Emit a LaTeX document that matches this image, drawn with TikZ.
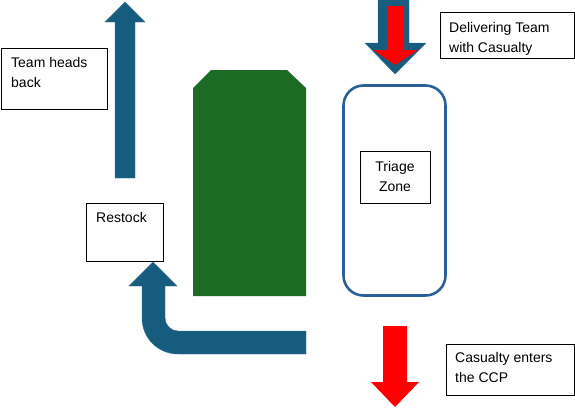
\documentclass[tikz,border=0pt]{standalone}
\usepackage{fontspec}
\setmainfont{Liberation Sans}
\definecolor{arrowblue}{RGB}{22,92,126}
\definecolor{zoneblue}{RGB}{42,96,152}
\definecolor{blockgreen}{RGB}{28,107,36}
\definecolor{alertred}{RGB}{255,0,0}
\tikzset{
  labelbox/.style={draw=black, line width=0.9pt, fill=white, inner sep=0pt, anchor=north west},
  labeltext/.style={inner sep=0pt, anchor=north west, align=left, font={\fontsize{14}{20.5}\selectfont}},
  centertext/.style={inner sep=0pt, anchor=north, align=center, font={\fontsize{14}{20}\selectfont}},
  bluearrow/.style={fill=arrowblue, draw=arrowblue!85!white, line width=0.4pt},
  redarrow/.style={fill=alertred},
}
\begin{document}
\begin{tikzpicture}[x=1pt,y=-1pt]
\useasboundingbox (0,0) rectangle (575,408);

% green block
\fill[blockgreen] (193,296) -- (193,88) -- (211,70) -- (287,70) -- (306,88) -- (306,296) -- cycle;

% up arrow (team heads back)
\path[bluearrow] (115,178) -- (115,22) -- (105,22) -- (125,2) -- (145,22) -- (135,22) -- (135,178) -- cycle;

% bent arrow
\path[bluearrow] (306,331) -- (178,331) .. controls (171,331) and (165,325) .. (165,318)
  -- (165,286) -- (177,286) -- (153,262) -- (129,286) -- (142,286) -- (142,318)
  .. controls (142,338) and (158,354) .. (178,354) -- (306,354) -- cycle;

% top arrow (delivering team)
\path[bluearrow] (378,0) -- (378,43) -- (365,43) -- (395,74) -- (426,43) -- (409,43) -- (409,0) -- cycle;
\path[redarrow] (387,6) -- (387,50) -- (373,50) -- (395,65) -- (418,50) -- (404,50) -- (404,6) -- cycle;

% bottom red arrow
\path[redarrow] (383,326) -- (383,382) -- (371,382) -- (395,407) -- (419,382) -- (407,382) -- (407,326) -- cycle;

% triage zone
\draw[zoneblue, line width=2.6pt, rounded corners=20pt] (343.5,85.5) rectangle (445.5,295.5);
\node[labelbox, minimum width=70pt, minimum height=52pt] (tz) at (360,151) {};
\node[centertext] (tzt) at (395,161) {Triage\\Zone};

% label boxes
\node[labelbox, minimum width=134pt, minimum height=46pt] (dtb) at (440,12) {};
\node[labeltext] (dtt) at (449,22) {Delivering Team\\with Casualty};

\node[labelbox, minimum width=106pt, minimum height=61pt] (thb) at (1,48) {};
\node[labeltext] (tht) at (11,57) {Team heads\\back};

\node[labelbox, minimum width=77pt, minimum height=58pt] (rsb) at (86,203) {};
\node[labeltext] (rst) at (96,212) {Restock};

\node[labelbox, minimum width=128pt, minimum height=51pt] (ceb) at (446,344) {};
\node[labeltext] (cet) at (455,352) {Casualty enters\\the CCP};
\end{tikzpicture}
\end{document}
